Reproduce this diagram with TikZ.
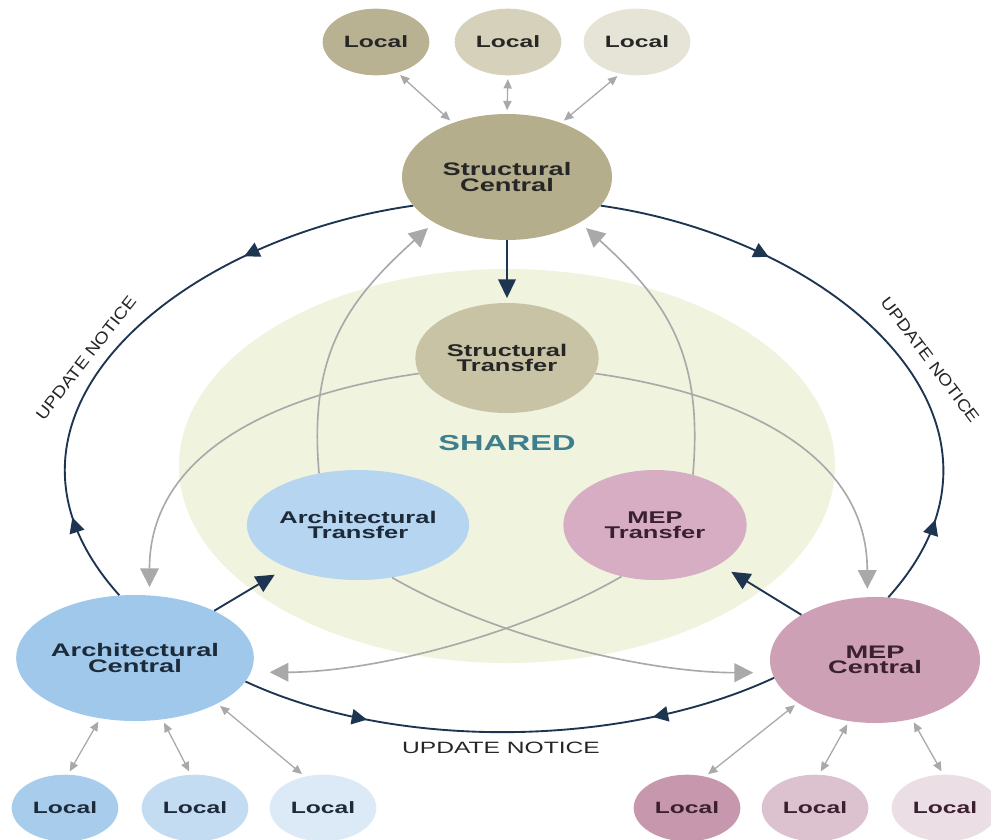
\documentclass[tikz,border=0pt]{standalone}
\usepackage{fontspec}
\usetikzlibrary{shapes.geometric,arrows.meta,decorations.markings}
\newfontfamily\widefont[FakeStretch=1.5]{Liberation Sans}
\newfontfamily\arcfont[FakeStretch=1.15]{Liberation Sans}

\definecolor{navy}{HTML}{1D3550}
\definecolor{linegray}{HTML}{A9A9A9}
\definecolor{sharedbg}{HTML}{F0F3DD}
\definecolor{sharedtxt}{HTML}{3D7F8C}
\definecolor{txtdark}{HTML}{262626}
\definecolor{txtblue}{HTML}{1C2A3A}
\definecolor{txtpink}{HTML}{3A2030}
\definecolor{olivea}{HTML}{B5AE8C}
\definecolor{oliveb}{HTML}{C8C3A5}
\definecolor{olivec}{HTML}{B8B292}
\definecolor{olived}{HTML}{D5D1BB}
\definecolor{olivee}{HTML}{E6E4D7}
\definecolor{bluea}{HTML}{A0C8EB}
\definecolor{blueb}{HTML}{B5D5F1}
\definecolor{bluec}{HTML}{A8CCEB}
\definecolor{blued}{HTML}{C4DCF2}
\definecolor{bluee}{HTML}{DCE9F6}
\definecolor{pinka}{HTML}{CDA0B6}
\definecolor{pinkb}{HTML}{D6ADC3}
\definecolor{pinkc}{HTML}{C797AD}
\definecolor{pinkd}{HTML}{DCC1CE}
\definecolor{pinke}{HTML}{EBDEE4}

\tikzstyle{central}=[ellipse,minimum width=6.3cm,minimum height=3.78cm,inner sep=0pt,align=center,font=\widefont\bfseries\fontsize{15.5}{13}\selectfont]
\tikzstyle{transfer}=[ellipse,minimum width=5.5cm,minimum height=3.3cm,inner sep=0pt,align=center,font=\widefont\bfseries\fontsize{14.5}{12.4}\selectfont]
\tikzstyle{local}=[ellipse,minimum width=3.2cm,minimum height=2cm,inner sep=0pt,font=\widefont\bfseries\fontsize{14}{14}\selectfont]
\tikzstyle{push}=[-{Triangle[length=16pt,width=15pt]},navy,line width=1.6pt]
\tikzstyle{pull}=[-{Triangle[length=16pt,width=16pt]},linegray,line width=1.4pt]
\tikzstyle{sync}=[{Triangle[length=8pt,width=7pt]}-{Triangle[length=8pt,width=7pt]},linegray,line width=1.1pt,shorten <=3pt,shorten >=3pt]
\tikzstyle{noticetxt}=[inner sep=0pt,text=txtdark,font=\arcfont\fontsize{14}{14}\selectfont]
\tikzset{notice/.style 2 args={navy,line width=1.6pt,
  decoration={markings,
    mark=at position #1 with {\arrow{Triangle[length=13pt,width=13pt]}},
    mark=at position #2 with {\arrowreversed{Triangle[length=13pt,width=13pt]}}},
  postaction={decorate}}}

\begin{document}
\begin{tikzpicture}[x=0.03cm,y=-0.03cm]
    \useasboundingbox (0,0) rectangle (991,839);
    \node[ellipse,fill=sharedbg,minimum width=19.68cm,minimum height=11.82cm] (shared) at (507,466) {};
    \node[text=sharedtxt,font=\widefont\bfseries\fontsize{18.5}{18.5}\selectfont] (sharedlbl) at (507,443) {SHARED};

    % structural
    \node[local,fill=olivec,text=txtdark] (ls1) at (376,42) {Local};
    \node[local,fill=olived,text=txtdark] (ls2) at (508,42) {Local};
    \node[local,fill=olivee,text=txtdark] (ls3) at (637,42) {Local};
    \node[central,fill=olivea,text=txtdark] (sc) at (507,177) {Structural\\Central};
    \node[transfer,fill=oliveb,text=txtdark] (st) at (507,358) {Structural\\Transfer};

    % architectural
    \node[transfer,fill=blueb,text=txtblue] (at) at (358,525) {Architectural\\Transfer};
    \node[central,fill=bluea,text=txtblue] (ac) at (135,658) {Architectural\\Central};
    \node[local,fill=bluec,text=txtblue] (la1) at (65,808)  {Local};
    \node[local,fill=blued,text=txtblue] (la2) at (195,808) {Local};
    \node[local,fill=bluee,text=txtblue] (la3) at (323,808) {Local};

    % mep
    \node[transfer,fill=pinkb,text=txtpink] (mt) at (655,525) {MEP\\Transfer};
    \node[central,fill=pinka,text=txtpink] (mc) at (875,660) {MEP\\Central};
    \node[local,fill=pinkc,text=txtpink] (lm1) at (687,808) {Local};
    \node[local,fill=pinkd,text=txtpink] (lm2) at (815,808) {Local};
    \node[local,fill=pinke,text=txtpink] (lm3) at (945,808) {Local};

    % update notice ring
    \draw[notice={0.29}{0.85}] (sc.197) to[out=188,in=132,looseness=1.25] (ac.104);
    \draw[notice={0.29}{0.85}] (sc.-17) to[out=-8,in=48,looseness=1.25] (mc.78);
    \draw[notice={0.235}{0.765}] (ac.-12) to[out=-25,in=205,looseness=0.8] (mc.190);
    \node[noticetxt,rotate=52] (nl) at (86,358) {UPDATE NOTICE};
    \node[noticetxt,rotate=-53] (nr) at (930,360) {UPDATE NOTICE};
    \node[noticetxt,font=\widefont\fontsize{14}{14}\selectfont] (nb) at (501,748) {UPDATE NOTICE};

    % central to transfer
    \draw[push,shorten >=4pt] (sc) -- (st);
    \draw[push,shorten >=12pt] (ac) -- (at);
    \draw[push,shorten >=12pt] (mc) -- (mt);

    % transfer to other centrals
    \draw[pull,shorten >=7pt] (st.190) to[out=188,in=90,looseness=1.05] (ac.77);
    \draw[pull,shorten >=7pt] (st.-10) to[out=-8,in=90,looseness=1.05] (mc.97);
    \draw[pull,shorten >=7pt] (at.127) to[out=95,in=222,looseness=1.1] (sc.212);
    \draw[pull,shorten >=7pt] (mt.53) to[out=85,in=-42,looseness=1.1] (sc.-32);
    \draw[pull,shorten >=16pt] (at.-57) to[out=-30,in=180,looseness=0.8] (mc.187);
    \draw[pull,shorten >=16pt] (mt.-123) to[out=210,in=0,looseness=0.8] (ac.-7);

    % locals
    \draw[sync] (ls1.-55) -- (sc.135);
    \draw[sync] (ls2.south) -- (sc.north);
    \draw[sync] (ls3.-118) -- (sc.45);
    \draw[sync] (la1.85) -- (ac.240);
    \draw[sync] (la2.97) -- (ac.-66);
    \draw[sync] (la3.120) -- (ac.-29);
    \draw[sync] (lm1.60) -- (mc.209);
    \draw[sync] (lm2.83) -- (mc.247);
    \draw[sync] (lm3.93) -- (mc.-58);
\end{tikzpicture}
\end{document}
